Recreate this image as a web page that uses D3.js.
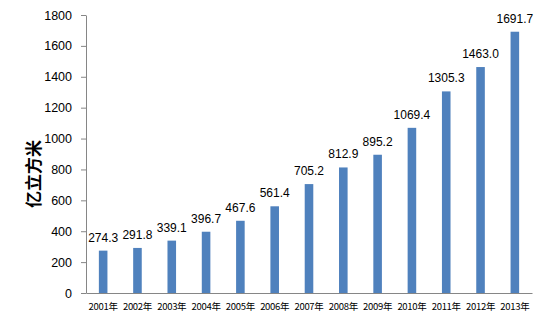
<!DOCTYPE html>
<html>
<head>
<meta charset="utf-8">
<script src="https://cdn.jsdelivr.net/npm/d3@7"></script>
<style>
  html, body { margin: 0; padding: 0; background: #fff; }
  svg { display: block; }
</style>
</head>
<body>
<div id="chart"></div>
<script>
// Annual volume, 100 million cubic metres
const years = ["2001年", "2002年", "2003年", "2004年", "2005年", "2006年", "2007年",
               "2008年", "2009年", "2010年", "2011年", "2012年", "2013年"];
const values = [274.3, 291.8, 339.1, 396.7, 467.6, 561.4, 705.2,
                812.9, 895.2, 1069.4, 1305.3, 1463.0, 1691.7];
const yTicks = [0, 200, 400, 600, 800, 1000, 1200, 1400, 1600, 1800];
const yTitle = "亿立方米";

const W = 547, H = 324;
const margin = { left: 86, right: 15, top: 15, bottom: 31 };

const svg = d3.select("#chart").append("svg")
  .attr("width", W).attr("height", H);

const x = d3.scaleBand()
  .domain(years)
  .range([margin.left, W - margin.right])
  .paddingInner(0.75)
  .paddingOuter(0.375);

const y = d3.scaleLinear()
  .domain([0, 1800])
  .range([H - margin.bottom, margin.top]);

const axisColor = "#868686";

// Y axis
const yAxis = svg.append("g")
  .attr("transform", `translate(${margin.left},0)`)
  .call(d3.axisLeft(y).tickValues(yTicks).tickFormat(d3.format("d"))
    .tickSize(5).tickPadding(9).tickSizeOuter(0));
yAxis.select(".domain").attr("stroke", axisColor);
yAxis.selectAll(".tick line").attr("stroke", axisColor);
yAxis.selectAll(".tick text")
  .attr("fill", "#000")
  .style("font-family", "'Liberation Sans', Arial, sans-serif")
  .style("font-size", "12.5px");

// X axis
const xAxis = svg.append("g")
  .attr("transform", `translate(0,${H - margin.bottom})`)
  .call(d3.axisBottom(x).tickSize(0).tickPadding(10));
xAxis.select(".domain").attr("stroke", axisColor);
xAxis.selectAll(".tick text")
  .attr("fill", "#000")
  .style("font-family", "'Noto Sans CJK SC', sans-serif")
  .style("font-size", "9.5px")
  .attr("letter-spacing", "-0.3");

// Bars
svg.append("g").selectAll("rect")
  .data(values)
  .join("rect")
  .attr("x", (d, i) => x(years[i]))
  .attr("y", d => y(d))
  .attr("width", x.bandwidth())
  .attr("height", d => y(0) - y(d))
  .attr("fill", "#4F81BD");

// Value labels
svg.append("g").selectAll("text")
  .data(values)
  .join("text")
  .attr("x", (d, i) => x(years[i]) + x.bandwidth() / 2)
  .attr("y", d => y(d) - 9)
  .attr("text-anchor", "middle")
  .style("font-family", "'Liberation Sans', Arial, sans-serif")
  .style("font-size", "12px")
  .attr("fill", "#000")
  .text(d => d.toFixed(1));

// Y axis title
svg.append("text")
  .attr("transform", `translate(40,${(margin.top + H - margin.bottom) / 2 + 20}) rotate(-90)`)
  .attr("text-anchor", "middle")
  .style("font-family", "'Noto Sans CJK SC', sans-serif")
  .style("font-size", "17px")
  .style("font-weight", "bold")
  .attr("fill", "#000")
  .text(yTitle);
</script>
</body>
</html>
